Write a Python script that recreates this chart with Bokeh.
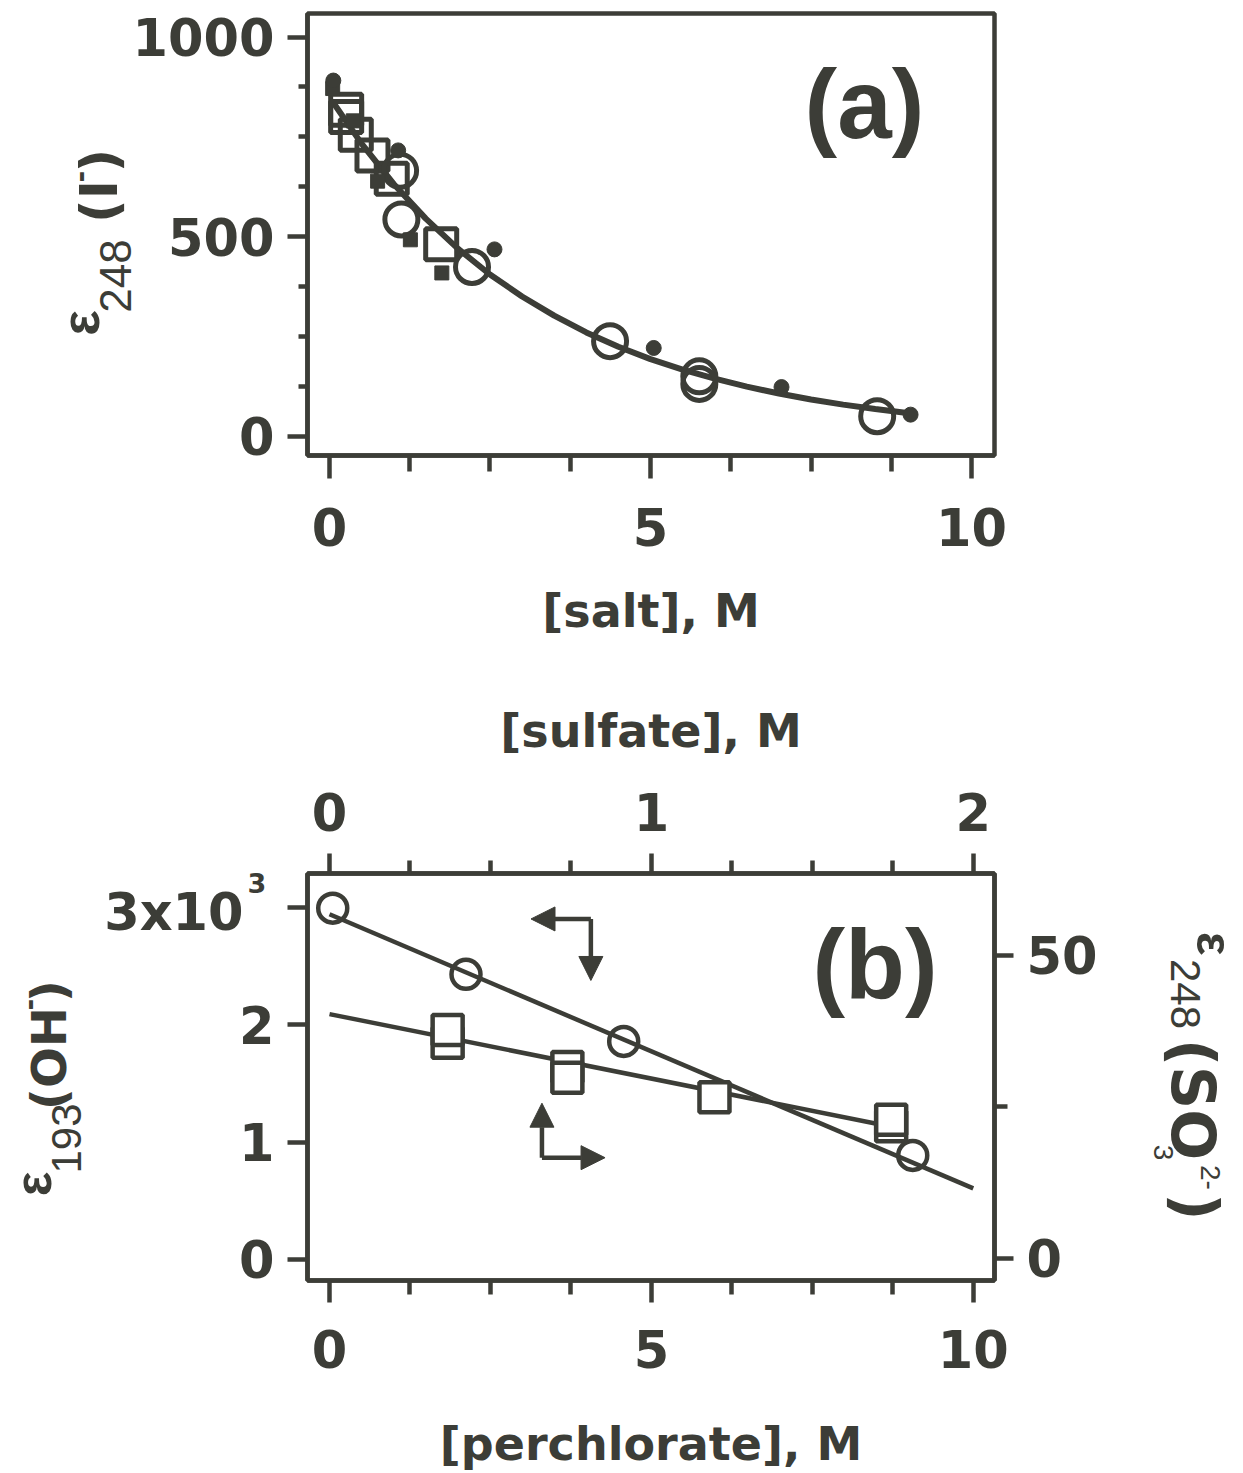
from math import pi
from bokeh.plotting import figure
from bokeh.models import Range1d, LinearAxis, FixedTicker, Arrow, NormalHead
from bokeh.core.properties import value
from bokeh.layouts import column
from bokeh.embed import file_html
from bokeh.resources import INLINE

INK = "#3c3d37"

# ---------------- panel (a) data : epsilon_248(I-) vs [salt] ----------------
a_open_square_x = [0.26, 0.26, 0.41, 0.67, 0.97, 1.74]
a_open_square_y = [818, 800, 755, 703, 645, 481]
a_filled_square_x = [0.05, 0.37, 0.75, 1.26, 1.75]
a_filled_square_y = [871, 790, 639, 492, 409]
a_open_circle_x = [1.10, 1.12, 2.22, 4.37, 5.76, 5.76, 8.53]
a_open_circle_y = [665, 543, 424, 238, 150, 131, 50]
a_filled_circle_x = [0.06, 1.07, 2.57, 5.05, 7.04, 9.05]
a_filled_circle_y = [891, 716, 468, 221, 123, 54]
a_fit_x = [0.05, 0.5, 1.0, 1.5, 2.0, 2.5, 3.0, 3.5, 4.0, 4.5, 5.0, 5.5, 6.0, 6.5, 7.0, 7.5, 8.0, 8.5, 9.0]
a_fit_y = [838, 733, 632, 545, 470, 405, 350, 302, 260, 224, 193, 167, 144, 124, 107, 92, 79, 68, 58]
a_x_ticks = [0, 5, 10]
a_x_minor = [1.25, 2.5, 3.75, 6.25, 7.5, 8.75]
a_y_ticks = [0, 500, 1000]
a_y_minor = [125, 250, 375, 625, 750, 875]

# ---------------- panel (b) data ----------------
b_oh_x = [0.05, 2.12, 4.57, 9.06]          # [perchlorate], M
b_oh_y = [2992, 2428, 1857, 886]           # epsilon_193(OH-)
b_oh_fit_x = [0.0, 10.0]
b_oh_fit_y = [2940, 605]
b_so3_x = [0.367, 0.367, 0.739, 0.739, 1.196, 1.745, 1.745]   # [sulfate], M
b_so3_y = [35.6, 37.7, 31.6, 29.8, 26.6, 21.8, 22.9]          # epsilon_248(SO3 2-)
b_so3_fit_x = [0.0, 1.75]
b_so3_fit_y = [40.3, 21.7]
b_x_ticks = [0, 5, 10]
b_x_minor = [1.25, 2.5, 3.75, 6.25, 7.5, 8.75]
b_top_ticks = [0, 1, 2]
b_top_minor = [0.25, 0.5, 0.75, 1.25, 1.5, 1.75]
b_left_ticks = [0, 1000, 2000, 3000]
b_left_labels = {0: "0", 1000: "1", 2000: "2", 3000: ""}
b_right_ticks = [0, 50]
b_right_minor = [25]

W = 1243
HA = 690
HB = 783
BOLD = "DejaVu Sans"
LIB = "Liberation Sans"
LW = 4.5


def style_axis(ax, ticks, minor, tick_out, minor_out, standoff, overrides=None,
               label=None, label_standoff=0):
    ax.ticker = FixedTicker(ticks=ticks, minor_ticks=minor)
    ax.axis_line_width = LW
    ax.axis_line_color = INK
    ax.major_tick_line_width = LW
    ax.major_tick_line_color = INK
    ax.minor_tick_line_width = LW
    ax.minor_tick_line_color = INK
    ax.major_tick_in = 0
    ax.major_tick_out = tick_out
    ax.minor_tick_in = 0
    ax.minor_tick_out = minor_out
    ax.major_label_text_font = BOLD
    ax.major_label_text_font_style = "bold"
    ax.major_label_text_font_size = "51px"
    ax.major_label_text_color = INK
    ax.major_label_standoff = standoff
    if overrides:
        ax.major_label_overrides = overrides
    if label:
        ax.axis_label = label
        ax.axis_label_text_font = BOLD
        ax.axis_label_text_font_style = "bold"
        ax.axis_label_text_font_size = "46px"
        ax.axis_label_text_color = INK
        ax.axis_label_standoff = label_standoff


def page_text(p, X, Y, text, size, font=BOLD, style="bold", angle=0.0, align="center"):
    # X, Y are page pixels (via the "px"/"py" helper ranges); Y is the em-box middle
    p.text(x=[X], y=[Y], text=[text], x_range_name="px", y_range_name="py",
           angle=angle, text_align=value(align), text_baseline=value("middle"),
           text_font=value(font), text_font_style=value(style),
           text_font_size=value(f"{size}px"), text_color=INK, level="overlay")


def finish(p):
    p.xgrid.grid_line_color = None
    p.ygrid.grid_line_color = None
    p.outline_line_color = INK
    p.outline_line_width = LW
    p.background_fill_color = "white"
    p.border_fill_color = "white"


# ======================= panel (a) =======================
AL, AR, AT, AB = 307, 996, 13, 455
pa = figure(width=W, height=HA, output_backend="svg", toolbar_location=None,
            x_range=Range1d(-0.342, 10.357), y_range=Range1d(-48.4, 1059),
            min_border_left=AL, min_border_right=W - AR,
            min_border_top=AT, min_border_bottom=HA - AB)
pa.extra_x_ranges = {"px": Range1d(AL, AR)}
pa.extra_y_ranges = {"py": Range1d(AB, AT)}
finish(pa)
style_axis(pa.xaxis[0], a_x_ticks, a_x_minor, 23, 16, 29, label="[salt], M", label_standoff=35)
style_axis(pa.yaxis[0], a_y_ticks, a_y_minor, 20, 9, 13)

pa.line(a_fit_x, a_fit_y, line_width=6, line_color=INK)
pa.scatter(a_open_square_x, a_open_square_y, marker="square", size=31,
           fill_color=None, line_color=INK, line_width=5)
pa.scatter(a_open_circle_x, a_open_circle_y, marker="circle", size=33,
           fill_color=None, line_color=INK, line_width=5)
pa.scatter(a_filled_square_x, a_filled_square_y, marker="square", size=14,
           fill_color=INK, line_color=INK, line_width=1)
pa.scatter(a_filled_circle_x, a_filled_circle_y, marker="circle", size=15,
           fill_color=INK, line_color=INK, line_width=1)

page_text(pa, 865.5, 103, "(a)", 98, font=LIB)
# y title: ε248 (I-)
page_text(pa, 79, 322.5, "ε", 54, font=LIB, angle=pi / 2)
page_text(pa, 114.6, 275.5, "248", 44, font=LIB, style="normal", angle=pi / 2)
page_text(pa, 98, 201, "(I", 52, angle=pi / 2)
page_text(pa, 78, 176, "-", 34, font=LIB, angle=pi / 2)
page_text(pa, 98, 160, ")", 52, angle=pi / 2)

# ======================= panel (b) =======================
OFF = 690
BL, BR, BT, BB = 307, 994, 873, 1280
pb = figure(width=W, height=HB, output_backend="svg", toolbar_location=None,
            x_range=Range1d(-0.342, 10.33), y_range=Range1d(-179, 3287),
            min_border_left=BL, min_border_right=W - BR,
            min_border_top=BT - OFF, min_border_bottom=OFF + HB - BB)
pb.extra_x_ranges = {"sulfate": Range1d(-0.0684, 2.066), "px": Range1d(BL, BR)}
pb.extra_y_ranges = {"so3": Range1d(-3.63, 63.5), "py": Range1d(BB, BT)}
finish(pb)
style_axis(pb.xaxis[0], b_x_ticks, b_x_minor, 22, 14, 27,
           label="[perchlorate], M", label_standoff=46)
style_axis(pb.yaxis[0], b_left_ticks, [], 20, 0, 13, overrides=b_left_labels)

top_axis = LinearAxis(x_range_name="sulfate")
style_axis(top_axis, b_top_ticks, b_top_minor, 20, 13, 23,
           label="[sulfate], M", label_standoff=32)
pb.add_layout(top_axis, "above")
right_axis = LinearAxis(y_range_name="so3")
style_axis(right_axis, b_right_ticks, b_right_minor, 19, 13, 13)
pb.add_layout(right_axis, "right")

pb.line(b_oh_fit_x, b_oh_fit_y, line_width=LW, line_color=INK)
pb.line(b_so3_fit_x, b_so3_fit_y, line_width=LW, line_color=INK,
        x_range_name="sulfate", y_range_name="so3")
pb.scatter(b_oh_x, b_oh_y, marker="circle", size=29,
           fill_color=None, line_color=INK, line_width=LW)
pb.scatter(b_so3_x, b_so3_y, marker="square", size=30,
           fill_color="white", line_color=INK, line_width=LW,
           x_range_name="sulfate", y_range_name="so3")

# axis-direction arrows
for xs, ys, xe, ye in [(4.06, 2900, 3.13, 2900), (4.06, 2900, 4.06, 2376),
                       (3.30, 867, 3.30, 1331), (3.30, 867, 4.28, 867)]:
    pb.add_layout(Arrow(end=NormalHead(size=24, fill_color=INK, line_color=INK, line_width=1),
                        x_start=xs, y_start=ys, x_end=xe, y_end=ye,
                        line_width=LW, line_color=INK))

page_text(pb, 874.5, 963, "(b)", 98, font=LIB)
page_text(pb, 243, 912.4, "3x10", 51, align="right")
page_text(pb, 247, 882.7, "3", 27, align="left")
# left title: ε193(OH-)
page_text(pb, 32, 1183.5, "ε", 52, font=LIB, angle=pi / 2)
page_text(pb, 65.5, 1138, "193", 42, font=LIB, style="normal", angle=pi / 2)
page_text(pb, 48.4, 1058, "(OH", 48, angle=pi / 2)
page_text(pb, 28, 1004, "-", 34, font=LIB, angle=pi / 2)
page_text(pb, 48.4, 990.5, ")", 48, angle=pi / 2)
# right title: ε248(SO3 2-)
page_text(pb, 1213.3, 943, "ε", 50, font=LIB, angle=-pi / 2)
page_text(pb, 1184.7, 993.5, "248", 42, font=LIB, style="normal", angle=-pi / 2)
page_text(pb, 1192.8, 1099, "(SO", 60, angle=-pi / 2)
page_text(pb, 1162.8, 1152, "3", 28, font=LIB, style="normal", angle=-pi / 2)
page_text(pb, 1209.8, 1177, "2-", 28, font=LIB, style="normal", angle=-pi / 2)
page_text(pb, 1195, 1206.5, ")", 60, angle=-pi / 2)

layout = column(pa, pb, spacing=0)
open("out.html", "w").write(file_html(layout, INLINE))
